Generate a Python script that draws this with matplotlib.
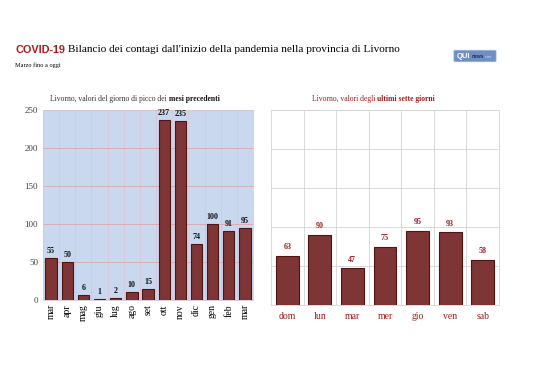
import matplotlib.pyplot as plt
import matplotlib.patches as pts
import numpy as np

# dati
mesi = ['mar', 'apr', 'mag', 'giu', 'lug', 'ago', 'set', 'ott', 'nov', 'dic', 'gen', 'feb', 'mar']
picchi = [55, 50, 6, 1, 2, 10, 15, 237, 235, 74, 100, 91, 95]
giorni = ['dom', 'lun', 'mar', 'mer', 'gio', 'ven', 'sab']
ultimi = [63, 90, 47, 75, 95, 93, 58]

bar_col = '#7d3535'
edge_col = '#4f1414'
red = '#a01c1c'
serif = 'Liberation Serif'
W, H = 538, 380

fig = plt.figure(figsize=(5.38, 3.8), dpi=100)
fig.patch.set_facecolor('white')
rend = fig.canvas.get_renderer()


def after(t, gap=0):
    # x (in fig coords) where text t ends
    bb = t.get_window_extent(renderer=rend)
    return (bb.x1 + gap) / W


# titolo
t = fig.text(15/W, 1-50/H, 'COVID-19', color='#b01818', fontsize=7.8, fontweight='bold',
             family='Liberation Sans', va='center')
fig.text(after(t, 3), 1-50/H, 'Bilancio dei contagi dall\'inizio della pandemia nella provincia di Livorno',
         color='black', fontsize=8.1, family=serif, va='center')
fig.text(15/W, 1-65/H, 'Marzo fino a oggi', fontsize=4.5, family=serif, va='center')

# logo
lg = pts.FancyBboxPatch((455/W, 1-61/H), 40/W, 10/H, boxstyle='round,pad=0.002',
                        transform=fig.transFigure, facecolor='#6d8fc4', edgecolor='#9fb3d6', lw=0.5)
fig.patches.append(lg)
t = fig.text(457/W, 1-56/H, 'QUI', color='white', fontsize=5.5, fontweight='bold',
             family='Liberation Sans', va='center')
t = fig.text(after(t, 1), 1-56.5/H, 'news', color='#1c2f5a', fontsize=3.6, fontweight='bold',
             family='Liberation Sans', va='center')
fig.text(after(t, 1), 1-56.5/H, '.net', color='#c9d6ec', fontsize=3.2,
         family='Liberation Sans', va='center')

# grafico sinistro
ax1 = fig.add_axes([43/W, 1-300/H, 210/W, 190/H])
ax1.set_facecolor('#c9d7ef')
x1 = np.arange(len(mesi))
ax1.bar(x1, picchi, width=0.7, color=bar_col, edgecolor=edge_col, linewidth=0.8, zorder=3)
ax1.set_xlim(-0.5, len(mesi)-0.5)
ax1.set_ylim(0, 250)
ax1.set_yticks(np.arange(0, 251, 50))
ax1.set_xticks(x1)
ax1.set_xticklabels(mesi, rotation=90, family=serif, fontsize=7)
ax1.tick_params(axis='y', labelsize=6.5, length=0, labelcolor='#444444')
ax1.tick_params(axis='x', length=0, pad=3)
for lab in ax1.get_yticklabels():
    lab.set_family(serif)
ax1.grid(axis='y', color='#d8a6ad', lw=0.6, zorder=0)
for b in np.arange(0.5, len(mesi)-0.5):
    ax1.axvline(b, color='#d8c8d8', lw=0.6, zorder=0)
for s in ax1.spines.values():
    s.set_color('#d8c8d8')
    s.set_linewidth(0.6)
for xi, v in zip(x1, picchi):
    ax1.text(xi, v + 4, str(v), ha='center', va='bottom', fontsize=5.8,
             fontweight='bold', family=serif, color='#111111')
t = fig.text(50/W, 1-99/H, 'Livorno, valori del giorno di picco dei',
             ha='left', va='center', fontsize=5.5, family=serif, color='#333333')
fig.text(after(t, 2), 1-99/H, 'mesi precedenti',
         ha='left', va='center', fontsize=5.5, family=serif, fontweight='bold', color='#111111')

# grafico destro
ax2 = fig.add_axes([271/W, 1-305/H, 228/W, 195/H])
ax2.set_facecolor('white')
x2 = np.arange(len(giorni))
ax2.bar(x2, ultimi, width=0.7, color=bar_col, edgecolor=edge_col, linewidth=0.8, zorder=3)
ax2.set_xlim(-0.5, len(giorni)-0.5)
ax2.set_ylim(0, 250)
ax2.set_yticks(np.arange(0, 251, 50))
ax2.set_yticklabels([])
ax2.set_xticks(x2)
ax2.set_xticklabels(giorni, family=serif, fontsize=7, color=red)
ax2.tick_params(length=0, pad=5)
ax2.grid(axis='y', color='#d4d4d4', lw=0.6, zorder=0)
for b in np.arange(0.5, len(giorni)-0.5):
    ax2.axvline(b, color='#d4d4d4', lw=0.6, zorder=0)
for s in ax2.spines.values():
    s.set_color('#d4d4d4')
    s.set_linewidth(0.6)
for xi, v in zip(x2, ultimi):
    ax2.text(xi, v + 6, str(v), ha='center', va='bottom', fontsize=5.8,
             fontweight='bold', family=serif, color=red)
t = fig.text(312/W, 1-99/H, 'Livorno, valori degli',
             ha='left', va='center', fontsize=5.5, family=serif, color=red)
fig.text(after(t, 2), 1-99/H, 'ultimi sette giorni',
         ha='left', va='center', fontsize=5.5, family=serif, fontweight='bold', color=red)

fig.savefig('out.png', dpi=100)
